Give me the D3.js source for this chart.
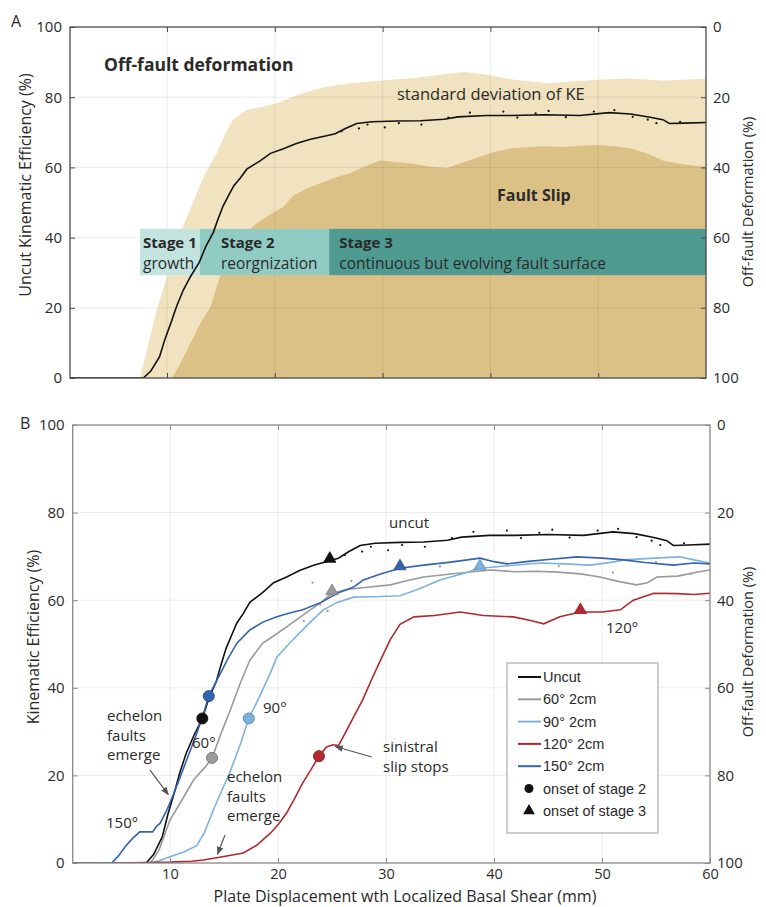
<!DOCTYPE html>
<html>
<head>
<meta charset="utf-8">
<script src="https://cdn.jsdelivr.net/npm/d3@7"></script>
<style>
  body { margin: 0; background: #fff; }
  svg text { font-family: "Open Sans", sans-serif; fill: #2a2a2a; }
  .legend text { font-family: "Liberation Sans", Arial, sans-serif; }
</style>
</head>
<body>
<script>
// ---- data (mm, %) ----
var xTicks = [10, 20, 30, 40, 50, 60];
var yTicks = [0, 20, 40, 60, 80, 100];

var uncutKE = [[1,0],[7.8,0],[8.5,2],[9.3,6],[9.8,11],[10.4,16],[10.9,20.5],[11.5,25],[12.2,29],[13,33],[13.6,37.5],
  [14.3,41.5],[14.7,45],[15.2,49],[15.8,52.5],[16.2,54.8],[16.8,57],[17.4,59.5],[18.6,61.8],[19.6,64],[20.8,65.3],
  [22,66.8],[23.3,68],[24.8,69],[25.6,69.6],[26.5,71],[27.6,72.5],[29,73],[31.3,73.2],[33.5,73.3],[35.7,73.7],
  [37,74.4],[39.6,74.8],[42,74.8],[45,75],[48.3,74.8],[51,75.6],[53,75.2],[54.8,74.3],[56,73.6],[56.6,72.5],
  [58,72.6],[60,72.8]];
var uncutDots = [[26.2,70.3],[27.8,71.1],[28.6,72.2],[30.2,71.4],[31.5,72.6],[33.6,72.2],[36.1,74.2],[38.1,75.6],
  [41.2,75.9],[42.5,74.2],[44.2,75.4],[45.4,76.1],[47,74.3],[49.6,75.9],[51.5,76.3],[53.2,74.4],[54.6,73.6],[55.4,72.6],[57.6,73]];

// panel A: mean +/- standard deviation of KE
var stdUpper = [[7.5,0],[8.3,10],[9.1,20],[10.1,30],[11.2,41],[12.4,50],[13.5,58],[14.6,64],[15.3,69],[16.1,73.5],
  [17.4,76.4],[18.5,77],[20.2,78.3],[22,80.5],[23.5,82],[24.8,83],[27,84],[30.7,85],[33,85.5],[35.5,86.5],
  [37.5,87.2],[39.5,86.5],[42.2,85],[45.3,84],[47.5,84.5],[49.9,85],[53,85.3],[56,84.7],[58,85],[60,85.3]];
var stdLower = [[10.46,0],[11.2,4],[11.85,8],[13.1,15.7],[14,20],[14.9,28.8],[16.1,36.5],[17.2,41],[18.3,44],
  [19.5,46.5],[20.8,48.7],[21.7,52],[23,54],[24.2,55.5],[25.5,57],[27,58.4],[28.5,60.5],[29.8,62],[31.5,61.5],
  [33,61],[34.5,60.2],[36,59.8],[37.5,61.5],[39,63],[40.5,64.5],[42.1,65.5],[43.7,65.8],[45,66],[46.7,65.8],
  [48.3,66.2],[49.9,66.4],[51.5,66],[52.9,65.5],[54.5,64],[56,62],[58,60.8],[60,60.1]];

var stageNames = ["Stage 1", "Stage 2", "Stage 3"];
var stageNotes = ["growth", "reorgnization", "continuous but evolving fault surface"];
var stageStart = [7.5, 13.05, 25.05];
var stageEnd = [13.05, 25.05, 60];
var stageBand = [29.3, 42.5];

// panel B: cut experiments
var ke60 = [[1,0],[8.2,0],[9,3],[10,9.8],[10.95,13.7],[12.2,19],[13.3,22],[13.9,24],[14.8,30],[15.6,35],[16.5,41],
  [17.4,46.3],[18.6,50.2],[19.7,52],[20.8,53.9],[22,56],[23,57.8],[24,59.5],[25,61.6],[26.5,62.5],[28.5,63],
  [30.4,63.5],[32,64.5],[33.5,65.3],[36,66],[39.7,66.9],[42,66.5],[44,66.6],[45.9,66.4],[48,66],[49.8,65.3],
  [51.5,64.3],[53.2,63.5],[54.2,64],[55.1,65.3],[57,65.5],[59,66.5],[60,66.9]];
var ke90 = [[1,0],[8.2,0],[9,0.5],[10,1.4],[11.3,2.5],[12.5,4],[13.2,7],[14,12],[14.8,16.5],[15.6,21],[16.5,27],
  [17.3,33],[18.3,38],[19.3,43.4],[19.9,47],[21,50],[22,52.5],[23,55],[24.2,57.8],[25.5,59.5],[27,60.7],[29,60.8],
  [31.3,61],[33,62.5],[35,64.6],[37,66],[38.7,67.3],[41,67.8],[44.3,68.5],[46.5,68.3],[48.9,68],[51,68.7],
  [52,69.2],[54,69.5],[57.2,69.9],[58.5,69.2],[60,68.5]];
var ke120 = [[1,0],[5.4,0],[10,0.2],[12,0.4],[13.1,0.7],[15,1.5],[16.8,2.3],[18,4],[19.3,6.8],[20.1,9],[20.8,11.4],
  [21.5,14.5],[22.3,18.3],[23.1,21.5],[23.8,24.4],[24.5,26.5],[25.1,27],[25.6,26.8],[26.3,30],[27,33.3],[27.8,37],
  [28.6,41.5],[29.5,46.3],[30.4,51],[31.3,54.5],[32.6,56.2],[34.5,56.5],[36.9,57.3],[39,56.5],[41.8,56.2],
  [43.5,55.3],[44.6,54.6],[46.1,56.2],[48,57.3],[50,57.3],[51.7,57.8],[52.9,60],[54.8,61.6],[57,61.5],[58.5,61.3],[60,61.6]];
var ke150 = [[1,0],[4.6,0],[5.2,1.5],[5.85,3.7],[6.5,5.5],[7.2,7.1],[8.4,7.1],[8.8,8.5],[9.1,9.1],[9.7,12],
  [10.3,15.5],[10.95,19.6],[11.7,24.5],[12.5,29.7],[13.1,34],[13.6,38.1],[14.4,42],[15.3,46.3],[16.2,50.2],
  [17.4,53.2],[18.6,55],[19.9,56.2],[21,57],[22.3,57.8],[24,59.5],[25.5,61.6],[27,63],[27.9,64.6],[29.5,66],
  [31.3,67.3],[33.5,68],[36,68.7],[38.7,69.6],[40,68.8],[41.2,68.3],[43,68.8],[45,69.3],[47.7,69.9],[50,69.6],
  [52,69.2],[54,68.6],[56.6,68],[58.5,68.5],[60,68.3]];
var cutDots = [[22.4,55.2],[23.2,64],[23.9,59],[24.6,57.5],[26.8,64.4],[35,67.7],[46,67.8],[51,66.3],[55,68.7],[58.2,66]];

var seriesNames = ["Uncut", "60° 2cm", "90° 2cm", "120° 2cm", "150° 2cm"];
var seriesData = [uncutKE, ke60, ke90, ke120, ke150];
var seriesColors = ["#111111", "#9a9a9a", "#7db2df", "#b3272d", "#3464ad"];
var stage2Onset = [[13.0,33], [13.9,24], [17.3,33], [23.8,24.4], [13.6,38.1]];
var stage3Onset = [[24.8,69], [25.0,61.6], [38.7,67.3], [48.0,57.3], [31.3,67.3]];

// ---- drawing ----
var width = 766, height = 907;
var svg = d3.select("body").append("svg").attr("width", width).attr("height", height);

var defs = svg.append("defs");
defs.append("marker").attr("id", "arr").attr("viewBox", "0 0 10 10")
  .attr("refX", 9).attr("refY", 5).attr("markerWidth", 7).attr("markerHeight", 7)
  .attr("orient", "auto").append("path").attr("d", "M0,1 L10,5 L0,9 z").attr("fill", "#555");

function clip(id, x, y) {
  defs.append("clipPath").attr("id", id).append("rect")
    .attr("x", x.range()[0]).attr("y", y.range()[1])
    .attr("width", x.range()[1] - x.range()[0]).attr("height", y.range()[0] - y.range()[1]);
}

function grid(g, x, y) {
  g.selectAll(".gx").data([10, 20, 30, 40, 50]).enter().append("line")
    .attr("x1", x).attr("x2", x).attr("y1", y(0)).attr("y2", y(100))
    .attr("stroke", "#000").attr("stroke-opacity", 0.08);
  g.selectAll(".gy").data([20, 40, 60, 80]).enter().append("line")
    .attr("y1", y).attr("y2", y).attr("x1", x(1)).attr("x2", x(60))
    .attr("stroke", "#000").attr("stroke-opacity", 0.08);
}

function axes(g, x, y, yr, frameColor, showX) {
  var left = x.range()[0], right = x.range()[1], top = y.range()[1], bottom = y.range()[0];
  g.append("rect").attr("x", left).attr("y", top).attr("width", right - left).attr("height", bottom - top)
    .attr("fill", "none").attr("stroke", frameColor).attr("stroke-width", 1.3);
  var la = g.append("g").attr("transform", "translate(" + left + ",0)")
    .call(d3.axisLeft(y).tickValues(yTicks).tickSize(-5).tickPadding(8));
  var ra = g.append("g").attr("transform", "translate(" + right + ",0)")
    .call(d3.axisRight(yr).tickValues(yTicks).tickSize(-5).tickPadding(7));
  var ba = g.append("g").attr("transform", "translate(0," + bottom + ")")
    .call(d3.axisBottom(x).tickValues(showX ? xTicks : [10, 20, 30, 40, 50]).tickSize(-5).tickPadding(6)
      .tickFormat(showX ? d3.format("d") : ""));
  var ta = g.append("g").attr("transform", "translate(0," + top + ")")
    .call(d3.axisTop(x).tickValues([10, 20, 30, 40, 50]).tickSize(-5).tickFormat(""));
  [la, ra, ba, ta].forEach(function (a) {
    a.select(".domain").remove();
    a.selectAll("line").attr("stroke", frameColor);
    a.selectAll("text").style("font-size", "15px").attr("fill", "#333");
  });
  ba.selectAll("text").style("font-size", "14.5px");
}

function lineFn(x, y) {
  return d3.line().x(function (d) { return x(d[0]); }).y(function (d) { return y(d[1]); });
}

/* ---------- PANEL A ---------- */
var xA = d3.scaleLinear().domain([1, 60]).range([70, 706]);
var yA = d3.scaleLinear().domain([0, 100]).range([378, 27]);
var yAr = d3.scaleLinear().domain([0, 100]).range([27, 378]);
clip("clipA", xA, yA);

var gA = svg.append("g");
var plotA = gA.append("g").attr("clip-path", "url(#clipA)");
var areaA = d3.area().x(function (d) { return xA(d[0]); }).y0(yA(0)).y1(function (d) { return yA(d[1]); });

plotA.append("path").datum(stdUpper).attr("d", areaA).attr("fill", "#f1e3bf");
plotA.append("path").datum(stdLower).attr("d", areaA).attr("fill", "#dcc187");
grid(plotA, xA, yA);

var stageColors = ["#c3e3de", "#91ccc4", "#4f9a91"];
plotA.selectAll(".stage").data(stageNames).enter().append("rect")
  .attr("x", function (d, i) { return xA(stageStart[i]); })
  .attr("width", function (d, i) { return xA(stageEnd[i]) - xA(stageStart[i]); })
  .attr("y", yA(stageBand[1])).attr("height", yA(stageBand[0]) - yA(stageBand[1]))
  .attr("fill", function (d, i) { return stageColors[i]; });

var stagePad = [3, 21, 10];
stageNames.forEach(function (s, i) {
  var tx = xA(stageStart[i]) + stagePad[i];
  gA.append("text").attr("x", tx).attr("y", 248).style("font-size", "15px").style("font-weight", "bold").text(s);
  gA.append("text").attr("x", tx).attr("y", 269).style("font-size", "15.5px").text(stageNotes[i]);
});

plotA.append("path").datum(uncutKE).attr("d", lineFn(xA, yA))
  .attr("fill", "none").attr("stroke", "#111").attr("stroke-width", 1.6);
plotA.selectAll(".dot").data(uncutDots).enter().append("circle")
  .attr("cx", function (d) { return xA(d[0]); }).attr("cy", function (d) { return yA(d[1]); })
  .attr("r", 1.1).attr("fill", "#111");

gA.append("text").attr("x", 104).attr("y", 71).style("font-size", "17.5px").style("font-weight", "bold")
  .text("Off-fault deformation");
gA.append("text").attr("x", 397).attr("y", 100).style("font-size", "16.5px").text("standard deviation of KE");
gA.append("text").attr("x", 497).attr("y", 201).style("font-size", "16px").style("font-weight", "bold").text("Fault Slip");

axes(gA, xA, yA, yAr, "#4a4a4a", false);

gA.append("text").attr("x", 11).attr("y", 27).style("font-size", "16px").text("A");
gA.append("text").attr("transform", "translate(31,185) rotate(-90)").attr("text-anchor", "middle")
  .style("font-size", "16px").text("Uncut Kinematic Efficiency (%)");
gA.append("text").attr("transform", "translate(753,202) rotate(-90)").attr("text-anchor", "middle")
  .style("font-size", "14.5px").text("Off-fault Deformation (%)");

/* ---------- PANEL B ---------- */
var xB = d3.scaleLinear().domain([1, 60]).range([72.7, 710]);
var yB = d3.scaleLinear().domain([0, 100]).range([863, 425]);
var yBr = d3.scaleLinear().domain([0, 100]).range([425, 863]);
clip("clipB", xB, yB);

var gB = svg.append("g");
var plotB = gB.append("g").attr("clip-path", "url(#clipB)");
grid(plotB, xB, yB);

plotB.selectAll(".dotB").data(uncutDots.concat(cutDots)).enter().append("circle")
  .attr("cx", function (d) { return xB(d[0]); }).attr("cy", function (d) { return yB(d[1]); })
  .attr("r", 1.1).attr("fill", function (d, i) { return i < uncutDots.length ? "#111" : "#999"; });

plotB.selectAll(".series").data(seriesData).enter().append("path")
  .attr("d", lineFn(xB, yB)).attr("fill", "none")
  .attr("stroke", function (d, i) { return seriesColors[i]; }).attr("stroke-width", 1.6);

var tri = d3.symbol().type(d3.symbolTriangle).size(65);
gB.selectAll(".s3").data(stage3Onset).enter().append("path")
  .attr("d", tri).attr("transform", function (d) { return "translate(" + xB(d[0]) + "," + (yB(d[1]) - 2) + ")"; })
  .attr("fill", function (d, i) { return seriesColors[i]; })
  .attr("stroke", function (d, i) { return d3.color(seriesColors[i]).darker(0.7); }).attr("stroke-width", 0.8);
gB.selectAll(".s2").data(stage2Onset).enter().append("circle")
  .attr("cx", function (d) { return xB(d[0]); }).attr("cy", function (d) { return yB(d[1]); }).attr("r", 5.5)
  .attr("fill", function (d, i) { return seriesColors[i]; })
  .attr("stroke", function (d, i) { return d3.color(seriesColors[i]).darker(0.9); }).attr("stroke-width", 0.9);

// annotations
function multi(x, y0, lines, color) {
  lines.forEach(function (t, i) {
    gB.append("text").attr("x", x).attr("y", y0 + i * 19.5).style("font-size", "15px")
      .attr("fill", color || "#2a2a2a").text(t);
  });
}
multi(107, 721, ["echelon", "faults", "emerge"]);
multi(227, 782, ["echelon", "faults", "emerge"]);
multi(383, 752, ["sinistral", "slip stops"]);
multi(389, 528, ["uncut"]);
multi(606, 633, ["120°"], "#b83a3f");
multi(263, 713, ["90°"], "#8fbde6");
multi(192, 748, ["60°"], "#a8a8a8");
multi(106, 828, ["150°"], "#3a69b0");

var arrows = [[[8.16, 21.2], [9.85, 15.6]], [[15.1, 6.4], [14.4, 2.0]], [[28.7, 24.2], [25.3, 26.6]]];
gB.selectAll(".arrow").data(arrows).enter().append("line")
  .attr("x1", function (d) { return xB(d[0][0]); }).attr("y1", function (d) { return yB(d[0][1]); })
  .attr("x2", function (d) { return xB(d[1][0]); }).attr("y2", function (d) { return yB(d[1][1]); })
  .attr("stroke", "#555").attr("stroke-width", 1.2).attr("marker-end", "url(#arr)");

axes(gB, xB, yB, yBr, "#888", true);

gB.append("text").attr("x", 20).attr("y", 429).style("font-size", "16px").text("B");
gB.append("text").attr("transform", "translate(39,637) rotate(-90)").attr("text-anchor", "middle")
  .style("font-size", "16px").text("Kinematic Efficiency (%)");
gB.append("text").attr("transform", "translate(753,652) rotate(-90)").attr("text-anchor", "middle")
  .style("font-size", "14.5px").text("Off-fault Deformation (%)");
gB.append("text").attr("x", 405).attr("y", 902).attr("text-anchor", "middle")
  .style("font-size", "16px").text("Plate Displacement wth Localized Basal Shear (mm)");

// legend
var leg = gB.append("g").attr("class", "legend");
leg.append("rect").attr("x", 507).attr("y", 663).attr("width", 151).attr("height", 170)
  .attr("fill", "#fff").attr("stroke", "#999");
var legItems = seriesNames.concat(["onset of stage 2", "onset of stage 3"]);
legItems.forEach(function (t, i) {
  var cy = 677 + i * 22.3;
  if (i < seriesNames.length) {
    leg.append("line").attr("x1", 518).attr("x2", 541).attr("y1", cy).attr("y2", cy)
      .attr("stroke", seriesColors[i]).attr("stroke-width", 2);
  } else if (i === 5) {
    leg.append("circle").attr("cx", 529).attr("cy", cy).attr("r", 4.5).attr("fill", "#111");
  } else {
    leg.append("path").attr("d", d3.symbol().type(d3.symbolTriangle).size(60))
      .attr("transform", "translate(529," + cy + ")").attr("fill", "#111");
  }
  leg.append("text").attr("x", 543).attr("y", cy + 5).style("font-size", "14.5px").attr("fill", "#222").text(t);
});
</script>
</body>
</html>
